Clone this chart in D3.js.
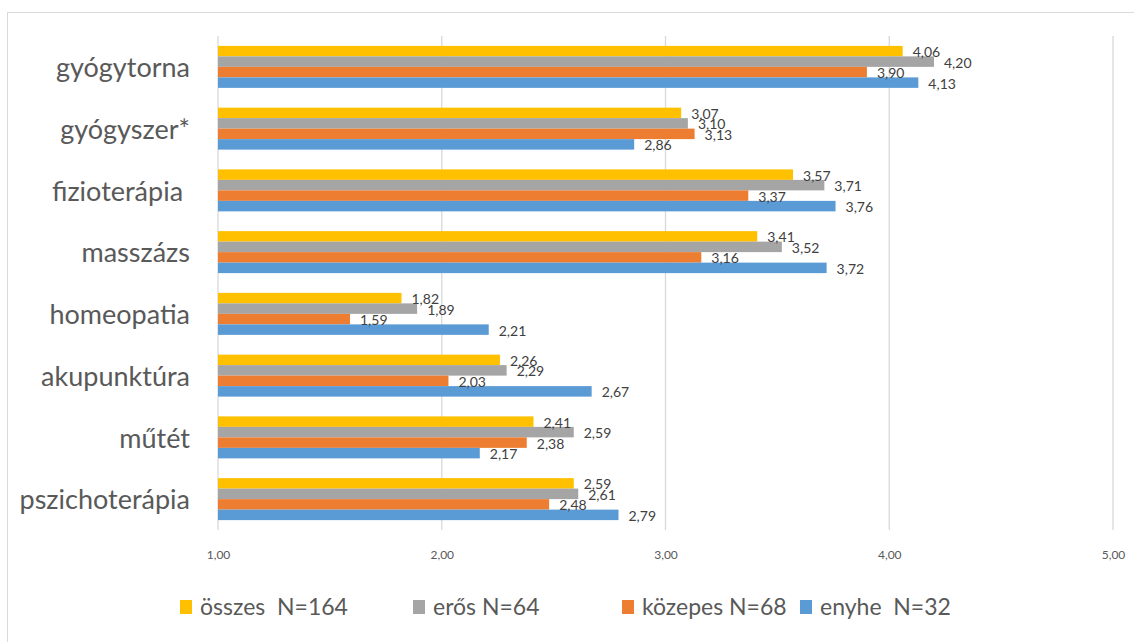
<!DOCTYPE html>
<html><head><meta charset="utf-8">
<script src="https://cdn.jsdelivr.net/npm/d3@7"></script>
<style>body{margin:0;background:#fff}svg{display:block}text{font-family:Lato,"Open Sans",sans-serif}</style>
</head><body>
<svg id="c" width="1134" height="642"></svg>
<script>
const categories = ["gyógytorna","gyógyszer*","fizioterápia ","masszázs","homeopatia","akupunktúra","műtét","pszichoterápia"];
const seriesNames = ["összes  N=164","erős N=64","közepes N=68","enyhe  N=32"];
const osszes  = [4.06,3.07,3.57,3.41,1.82,2.26,2.41,2.59];
const eros    = [4.20,3.10,3.71,3.52,1.89,2.29,2.59,2.61];
const kozepes = [3.90,3.13,3.37,3.16,1.59,2.03,2.38,2.48];
const enyhe   = [4.13,2.86,3.76,3.72,2.21,2.67,2.17,2.79];
const tickValues = [1,2,3,4,5];
const colors = ["#FFC000","#A5A5A5","#ED7D31","#5B9BD5"];

const series = [osszes, eros, kozepes, enyhe];
const fmt = v => d3.format(".2f")(v).replace(".", ",");

const svg = d3.select("#c");
svg.append("rect").attr("x",7.5).attr("y",12.5).attr("width",1140).attr("height",640)
  .attr("fill","none").attr("stroke","#d9d9d9");

const x = d3.scaleLinear().domain([1,5]).range([218,1113]);
const y = d3.scaleBand().domain(categories).range([36,530]).paddingInner(0.32).paddingOuter(0.16);
const yInner = d3.scaleBand().domain(d3.range(4)).range([0,y.bandwidth()]);

// gridlines
svg.append("g").selectAll("line").data(tickValues).join("line")
  .attr("x1",d=>x(d)).attr("x2",d=>x(d)).attr("y1",36).attr("y2",530)
  .attr("stroke","#d9d9d9").attr("stroke-width",1.3);

// x axis labels
const xAxis = d3.axisBottom(x).tickValues(tickValues).tickFormat(fmt).tickSize(0).tickPadding(0);
const gx = svg.append("g").attr("transform","translate(0,550)").call(xAxis);
gx.select(".domain").remove();
gx.selectAll("text").attr("fill","#595959").style("font-size","12px").style("font-family","Lato,sans-serif");

// y labels
const yAxis = d3.axisLeft(y).tickSize(0).tickPadding(0);
const gy = svg.append("g").attr("transform","translate(190,0)").call(yAxis);
gy.select(".domain").remove();
gy.selectAll("text").attr("fill","#595959").style("font-size","27px")
  .style("font-family","Lato,sans-serif").style("white-space","pre").attr("dy","0.38em");

// bars
const groups = svg.append("g").selectAll("g").data(categories).join("g")
  .attr("transform",c=>`translate(0,${y(c)})`);
groups.each(function(c,ci){
  const g = d3.select(this);
  series.forEach((s,si)=>{
    g.append("rect").attr("x",x(1)).attr("y",yInner(si)).attr("width",x(s[ci])-x(1))
      .attr("height",yInner.bandwidth()).attr("fill",colors[si]);
  });
  series.forEach((s,si)=>{
    g.append("text").attr("x",x(s[ci])+10).attr("y",yInner(si)+yInner.bandwidth()/2+1)
      .attr("dy","0.35em").attr("fill","#404040").style("font-size","14px").text(fmt(s[ci]));
  });
});

// legend
const legendX = [180,413,622,800];
const lg = svg.append("g").selectAll("g").data(seriesNames).join("g")
  .attr("transform",(d,i)=>`translate(${legendX[i]},607)`);
lg.append("rect").attr("x",0).attr("y",-7).attr("width",12).attr("height",14).attr("fill",(d,i)=>colors[i]);
lg.append("text").attr("x",20).attr("dy","0.36em").attr("fill","#595959").style("font-size","23px")
  .style("white-space","pre").text(d=>d);
</script>
</body></html>
